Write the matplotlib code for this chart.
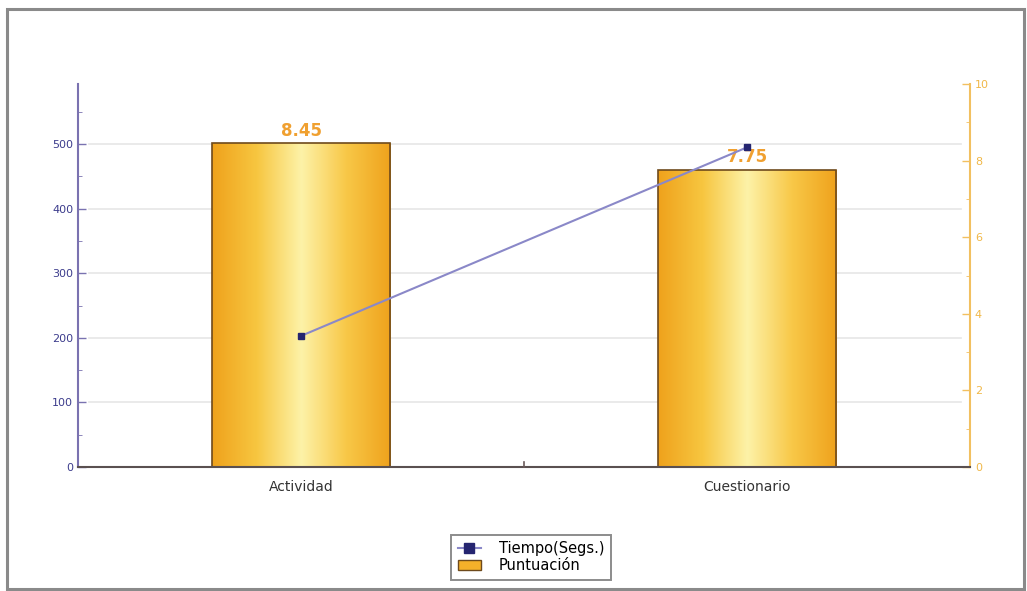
import numpy as np
import matplotlib
matplotlib.use('Agg')
import matplotlib.pyplot as plt
from matplotlib.colors import LinearSegmentedColormap
from matplotlib.lines import Line2D
from matplotlib.patches import Patch, Rectangle

# datos
categorias = ['Actividad', 'Cuestionario']
puntuacion = [8.45, 7.75]
tiempo = [203, 495]
ticks_izq = [0, 100, 200, 300, 400, 500]
ticks_der = [0, 2, 4, 6, 8, 10]

fig = plt.figure(figsize=(10.27, 5.91), dpi=100)
fig.patch.set_facecolor('white')

# marco exterior gris
fig.add_artist(Rectangle((0.007, 0.003), 0.990, 0.981, transform=fig.transFigure,
                         fill=False, edgecolor='#8a8a8a', linewidth=2.2))

ax = fig.add_axes([0.076, 0.2098, 0.8685, 0.648])
ax2 = ax.twinx()

x = np.arange(len(categorias))
ancho = 0.4

# barras con degradado sobre el eje derecho
grad = LinearSegmentedColormap.from_list('g', ['#efa21c', '#f7c640', '#fdf2a8', '#f8c848', '#efa21c'])
barras = ax2.bar(x, puntuacion, width=ancho, color='none', edgecolor='#6e4a1c',
                 linewidth=1.2, zorder=3)
for b in barras:
    img = ax2.imshow(np.linspace(0, 1, 256).reshape(1, -1), cmap=grad, aspect='auto',
                     extent=[b.get_x(), b.get_x() + b.get_width(), 0, b.get_height()],
                     zorder=2)
    img.set_clip_path(b)
for xi, v in zip(x, puntuacion):
    ax2.text(xi, v + 0.1, f'{v:.2f}', ha='center', va='bottom', color='#f0a030',
             fontsize=12, fontweight='bold', zorder=5)

ax2.set_ylim(0, 10)
ax2.set_yticks(ticks_der)
ax2.set_yticks(np.arange(1, 10, 2), minor=True)
ax2.tick_params(axis='y', direction='in', colors='#f2c060', labelcolor='#f0b848',
                labelsize=8, length=6, width=1)
ax2.tick_params(axis='y', which='minor', direction='in', colors='#f2c060', length=3)

# linea de tiempo sobre el eje izquierdo
ax.set_zorder(ax2.get_zorder() + 1)
ax.patch.set_visible(False)
ax.plot(x, tiempo, color='#8a88c8', linewidth=1.5, marker='s', markersize=5,
        markerfacecolor='#252570', markeredgecolor='#252570', zorder=6)

ax.set_ylim(0, 593)
ax.set_xlim(-0.5, 1.5)
ax.set_yticks(ticks_izq)
ax.set_yticks(np.arange(50, 600, 100), minor=True)
ax.tick_params(axis='y', direction='in', colors='#7a72b0', labelcolor='#3c3c8c',
               labelsize=8, length=6, width=1)
ax.tick_params(axis='y', which='minor', direction='in', colors='#7a72b0', length=3)
ax.set_xticks(x)
ax.set_xticklabels(categorias, fontsize=10, color='#333333')
ax.tick_params(axis='x', length=0, pad=9)
ax.plot([0.5, 0.5], [0, 8], color='#6a5a5a', linewidth=1.2, clip_on=False, zorder=6)

for yv in ticks_izq[1:]:
    ax2.axhline(yv * 10 / 593, xmin=0.012, xmax=0.99, color='#e6e6e6', linewidth=1.2, zorder=0)

for a in (ax, ax2):
    a.spines['top'].set_visible(False)
ax.spines['right'].set_visible(False)
ax2.spines['left'].set_visible(False)
ax.spines['left'].set_color('#7a72b0')
ax.spines['left'].set_linewidth(1.5)
ax2.spines['right'].set_color('#f2c060')
ax2.spines['right'].set_linewidth(1.5)
ax2.spines['bottom'].set_visible(False)
ax.spines['bottom'].set_color('#5a5050')
ax.spines['bottom'].set_linewidth(1.5)

handles = [Line2D([0], [0], color='#8a88c8', marker='s', markersize=7,
                  markerfacecolor='#252570', markeredgecolor='#252570'),
           Patch(facecolor='#f5b02a', edgecolor='#6e4a1c')]
leg = fig.legend(handles, ['Tiempo(Segs.)', 'Puntuación'], loc='center',
                 bbox_to_anchor=(0.517, 0.057), fontsize=10.5, frameon=True,
                 fancybox=False, handlelength=1.6, handletextpad=1.2,
                 labelspacing=0.15, borderpad=0.45, borderaxespad=0)
leg.get_frame().set_edgecolor('#707070')
leg.get_frame().set_linewidth(1.4)

fig.savefig('out.png', dpi=100)
